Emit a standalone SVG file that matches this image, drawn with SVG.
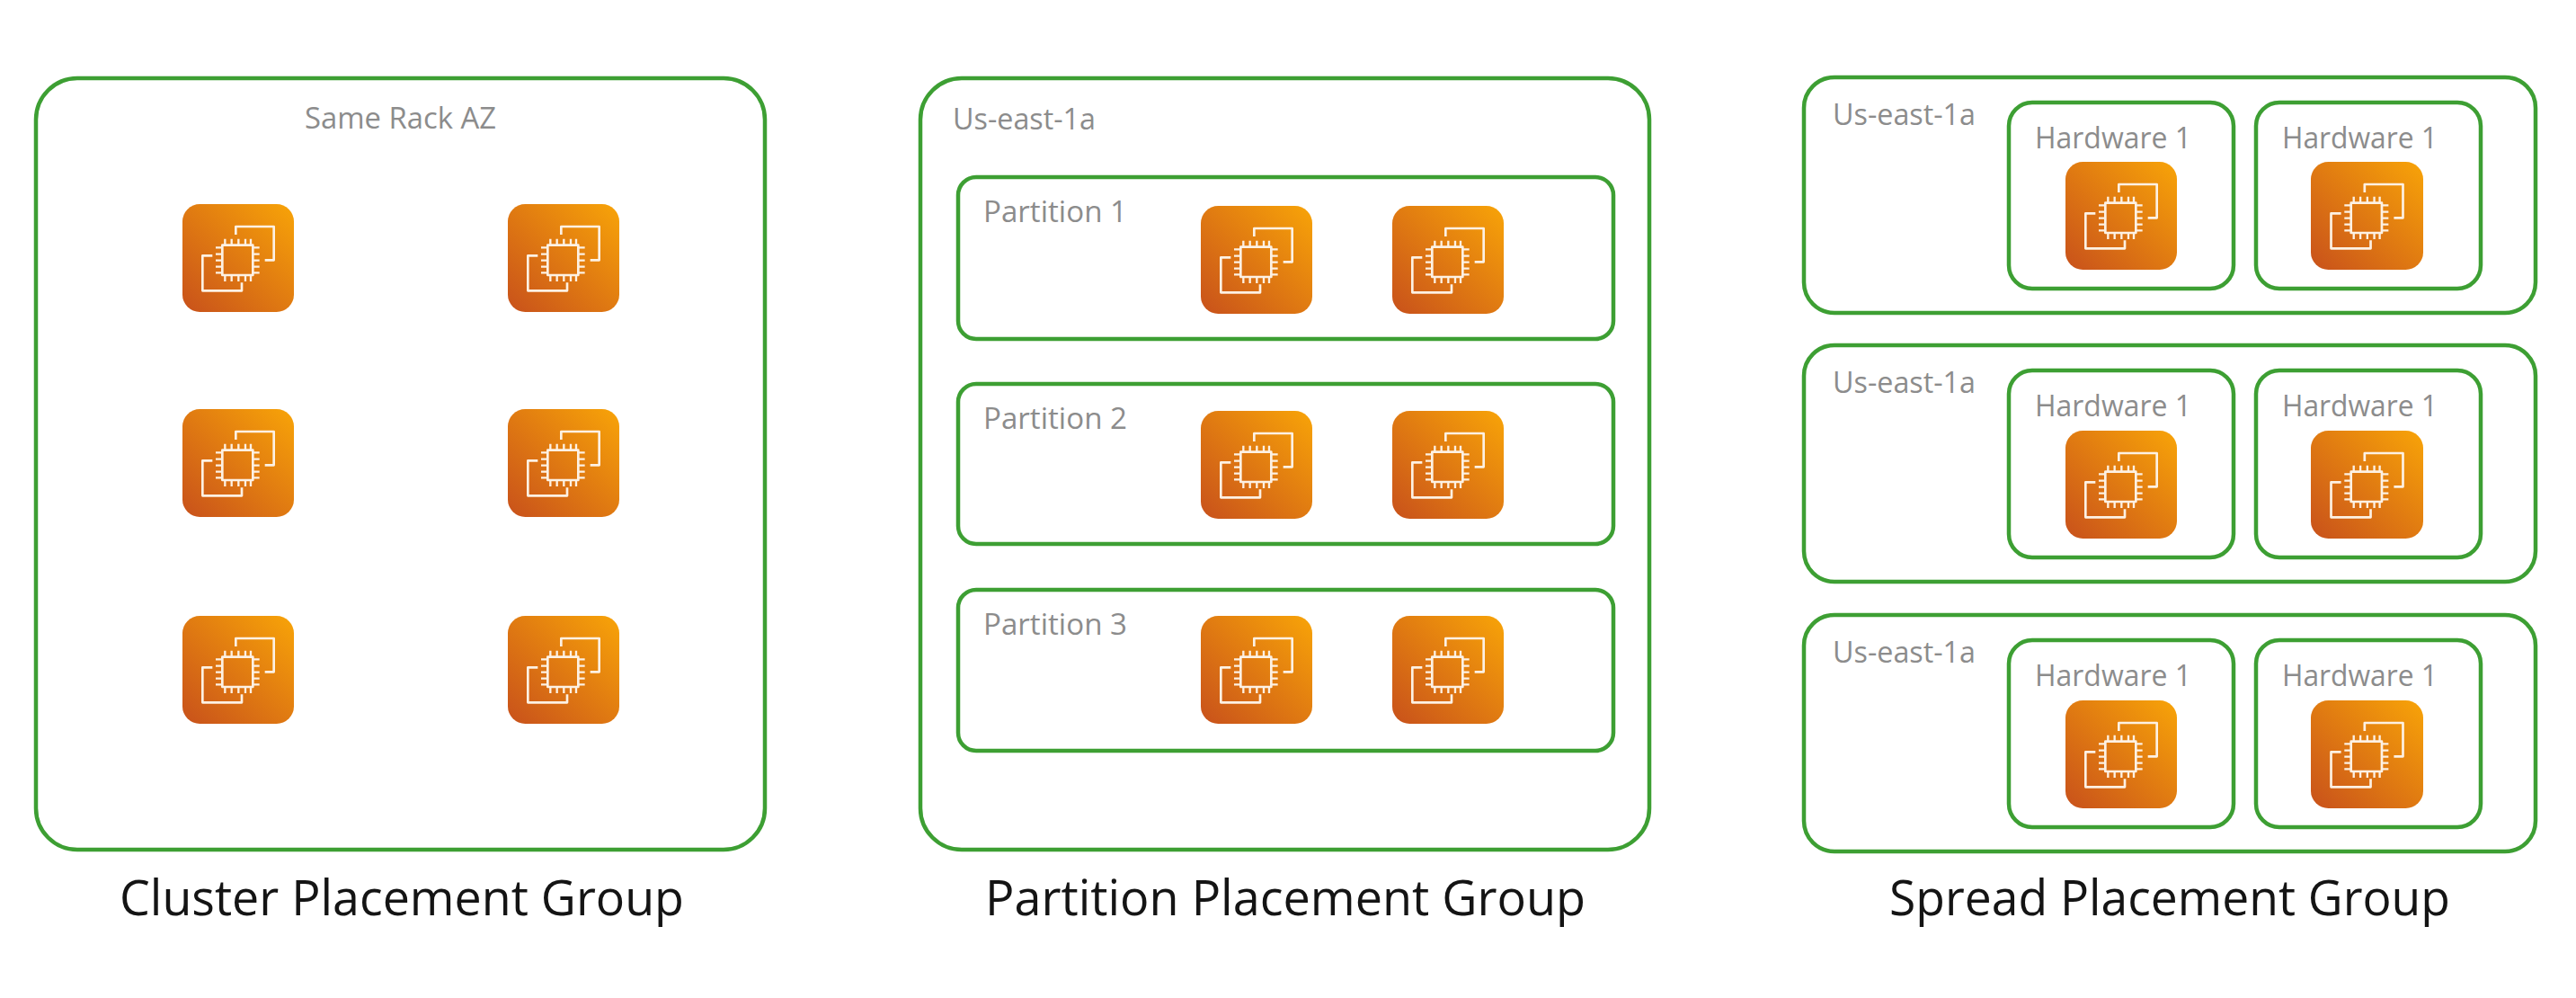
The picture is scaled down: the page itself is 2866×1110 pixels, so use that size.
<svg xmlns="http://www.w3.org/2000/svg" width="2866" height="1110" viewBox="0 0 2866 1110">
<style>
.box{fill:none;stroke:#3d9f33;stroke-width:4.5}
.lbl{font-family:"Open Sans","Noto Sans","Liberation Sans",sans-serif;font-weight:400;font-size:32px;fill:#8c8c8c}
.ttl{font-family:"Open Sans","Noto Sans","Liberation Sans",sans-serif;font-weight:400;font-size:54px;fill:#141414}
.ln{fill:none;stroke:#fdf1e3;stroke-width:8;stroke-linejoin:round}
</style>
<defs>
<linearGradient id="ec2" x1="0" y1="1" x2="1" y2="0"><stop offset="0" stop-color="#c8511b"/><stop offset="1" stop-color="#f8a408"/></linearGradient>
<symbol id="icon" viewBox="70 83 372 360" preserveAspectRatio="none">
<rect x="70" y="83" width="372" height="360" rx="58" fill="url(#ec2)"/>
<path class="ln" d="M248 185V158H375V270H345M170 255H137V372H268V345"/>
<rect class="ln" x="203" y="220" width="102" height="100"/>
<path class="ln" style="stroke-width:7" d="M212 199V220M234 199V220M257 199V220M280 199V220M298 199V220M212 320V341M234 320V341M257 320V341M280 320V341M298 320V341M181 228H203M181 250H203M181 271H203M181 292H203M181 312H203M305 228H327M305 250H327M305 271H327M305 292H327M305 312H327"/>
</symbol>
</defs>
<rect width="2866" height="1110" fill="#fff"/>
<g id="cluster-group">
<rect class="box" x="40" y="87" width="811" height="858" rx="46"/>
<text class="lbl" x="339" y="143" textLength="213" lengthAdjust="spacingAndGlyphs">Same Rack AZ</text>
<use href="#icon" x="203" y="227" width="124" height="120"/><use href="#icon" x="565" y="227" width="124" height="120"/>
<use href="#icon" x="203" y="455" width="124" height="120"/><use href="#icon" x="565" y="455" width="124" height="120"/>
<use href="#icon" x="203" y="685" width="124" height="120"/><use href="#icon" x="565" y="685" width="124" height="120"/>
<text class="ttl" x="133" y="1018" textLength="628" lengthAdjust="spacingAndGlyphs">Cluster Placement Group</text>
</g>
<g id="partition-group">
<rect class="box" x="1024" y="87" width="811" height="858" rx="46"/>
<text class="lbl" x="1060" y="144" textLength="159" lengthAdjust="spacingAndGlyphs">Us-east-1a</text>
<g id="partition-1"><rect class="box" x="1066" y="197" width="729" height="180" rx="20"/>
<text class="lbl" x="1094" y="247" textLength="160" lengthAdjust="spacingAndGlyphs">Partition 1</text>
<use href="#icon" x="1336" y="229" width="124" height="120"/><use href="#icon" x="1549" y="229" width="124" height="120"/></g>
<g id="partition-2"><rect class="box" x="1066" y="427" width="729" height="178" rx="20"/>
<text class="lbl" x="1094" y="477" textLength="160" lengthAdjust="spacingAndGlyphs">Partition 2</text>
<use href="#icon" x="1336" y="457" width="124" height="120"/><use href="#icon" x="1549" y="457" width="124" height="120"/></g>
<g id="partition-3"><rect class="box" x="1066" y="656" width="729" height="179" rx="20"/>
<text class="lbl" x="1094" y="706" textLength="160" lengthAdjust="spacingAndGlyphs">Partition 3</text>
<use href="#icon" x="1336" y="685" width="124" height="120"/><use href="#icon" x="1549" y="685" width="124" height="120"/></g>
<text class="ttl" x="1096" y="1018" textLength="668" lengthAdjust="spacingAndGlyphs">Partition Placement Group</text>
</g>
<g id="spread-group">
<g id="spread-1"><rect class="box" x="2007" y="86" width="814" height="262" rx="34"/>
<text class="lbl" x="2039" y="139" textLength="159" lengthAdjust="spacingAndGlyphs">Us-east-1a</text>
<rect class="box" x="2235" y="114" width="250" height="207" rx="26"/><text class="lbl" x="2264" y="165" textLength="174" lengthAdjust="spacingAndGlyphs">Hardware 1</text><use href="#icon" x="2298" y="180" width="124" height="120"/>
<rect class="box" x="2510" y="114" width="250" height="207" rx="26"/><text class="lbl" x="2539" y="165" textLength="173" lengthAdjust="spacingAndGlyphs">Hardware 1</text><use href="#icon" x="2571" y="180" width="125" height="120"/></g>
<g id="spread-2"><rect class="box" x="2007" y="384" width="814" height="263" rx="34"/>
<text class="lbl" x="2039" y="437" textLength="159" lengthAdjust="spacingAndGlyphs">Us-east-1a</text>
<rect class="box" x="2235" y="412" width="250" height="208" rx="26"/><text class="lbl" x="2264" y="463" textLength="174" lengthAdjust="spacingAndGlyphs">Hardware 1</text><use href="#icon" x="2298" y="479" width="124" height="120"/>
<rect class="box" x="2510" y="412" width="250" height="208" rx="26"/><text class="lbl" x="2539" y="463" textLength="173" lengthAdjust="spacingAndGlyphs">Hardware 1</text><use href="#icon" x="2571" y="479" width="125" height="120"/></g>
<g id="spread-3"><rect class="box" x="2007" y="684" width="814" height="263" rx="34"/>
<text class="lbl" x="2039" y="737" textLength="159" lengthAdjust="spacingAndGlyphs">Us-east-1a</text>
<rect class="box" x="2235" y="712" width="250" height="208" rx="26"/><text class="lbl" x="2264" y="763" textLength="174" lengthAdjust="spacingAndGlyphs">Hardware 1</text><use href="#icon" x="2298" y="779" width="124" height="120"/>
<rect class="box" x="2510" y="712" width="250" height="208" rx="26"/><text class="lbl" x="2539" y="763" textLength="173" lengthAdjust="spacingAndGlyphs">Hardware 1</text><use href="#icon" x="2571" y="779" width="125" height="120"/></g>
<text class="ttl" x="2102" y="1018" textLength="624" lengthAdjust="spacingAndGlyphs">Spread Placement Group</text>
</g>
</svg>
